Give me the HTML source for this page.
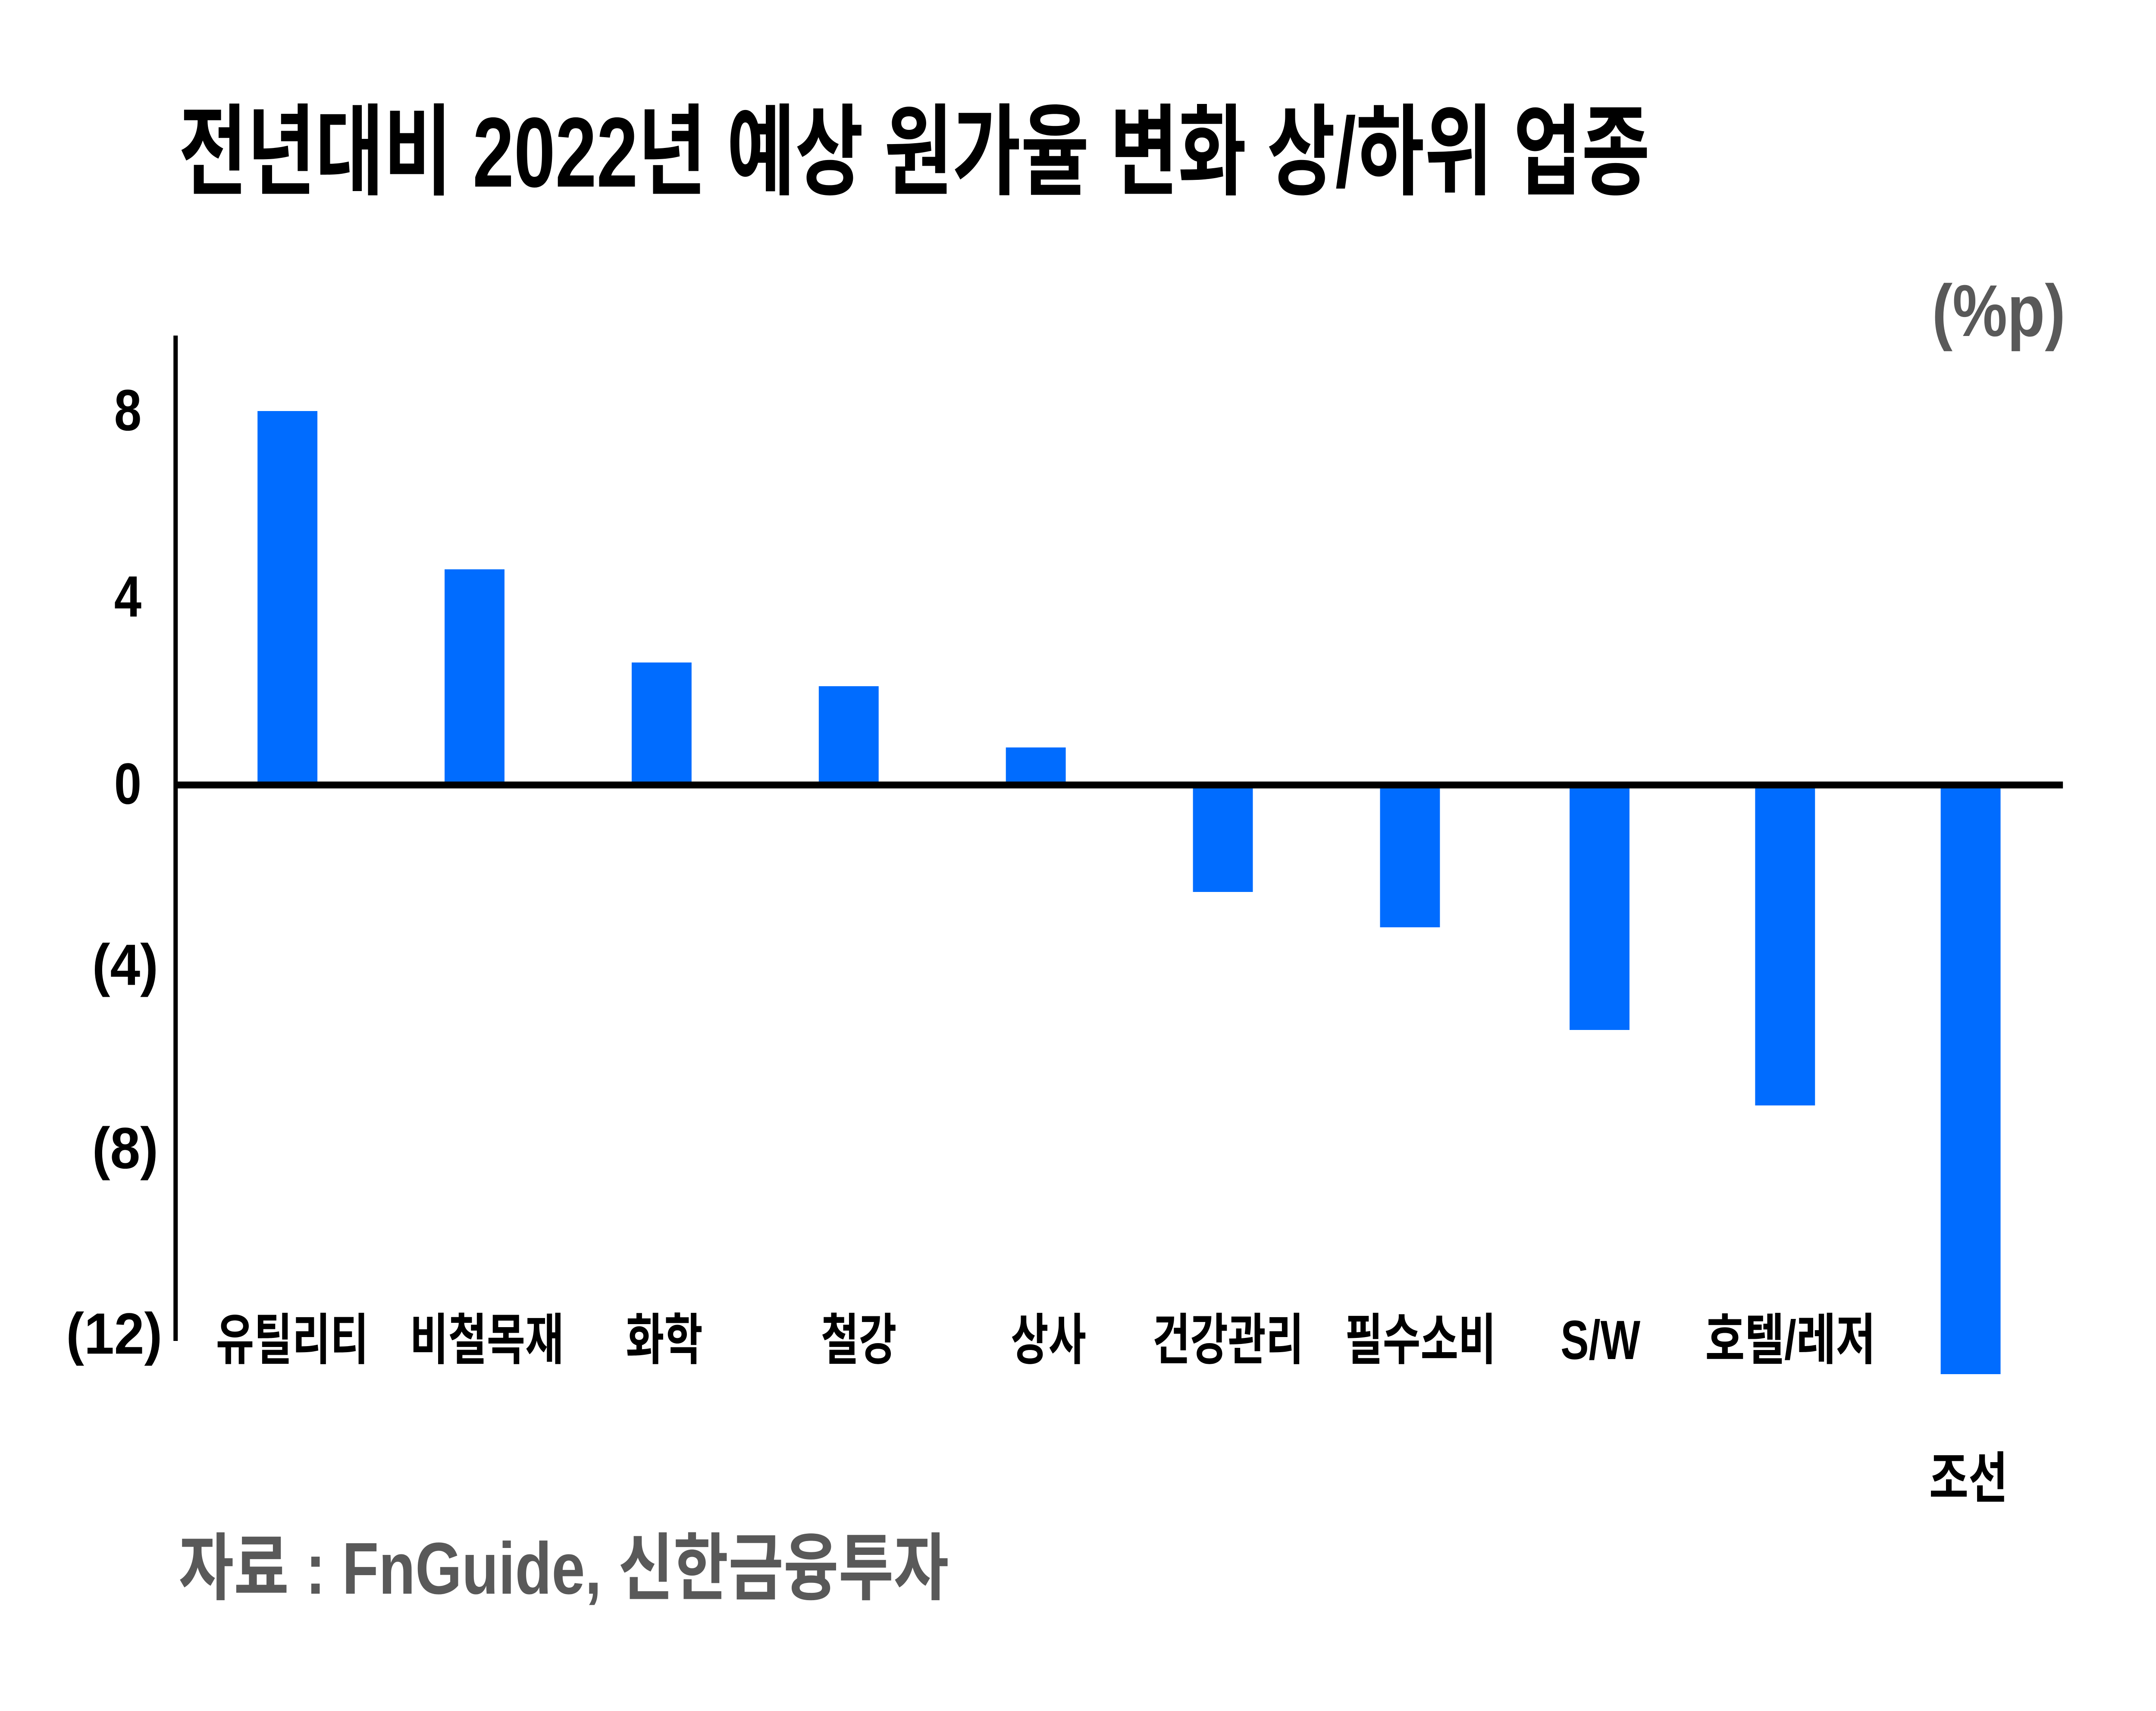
<!DOCTYPE html>
<html><head><meta charset="utf-8"><style>
html,body{margin:0;padding:0;background:#fff;width:100%;height:100%;overflow:hidden;}
svg{display:block;width:100vw;height:100vh;}
text{font-family:"Liberation Sans","Noto Sans CJK KR",sans-serif;font-weight:bold;}
</style></head><body>
<svg viewBox="0 0 6949 3967" preserveAspectRatio="none" xmlns="http://www.w3.org/2000/svg">
<rect width="6949" height="3967" fill="#fff"/>
<text x="576" y="354" dominant-baseline="central" font-size="230" textLength="4742" lengthAdjust="spacingAndGlyphs" fill="#000">전년대비 2022년 예상 원가율 변화 상/하위 업종</text>
<text x="6227" y="721" dominant-baseline="central" font-size="170" textLength="430" lengthAdjust="spacingAndGlyphs" fill="#595959">(%p)</text>
<g fill="#006CFF">
<rect x="830" y="953" width="193" height="867"/>
<rect x="1433" y="1320" width="193" height="500"/>
<rect x="2036" y="1536" width="193" height="284"/>
<rect x="2639" y="1591" width="193" height="229"/>
<rect x="3242" y="1733" width="193" height="87"/>
<rect x="3845" y="1820" width="193" height="248"/>
<rect x="4448" y="1820" width="193" height="330"/>
<rect x="5059" y="1820" width="193" height="568"/>
<rect x="5657" y="1820" width="193" height="743"/>
<rect x="6255" y="1820" width="193" height="1366"/>
</g>
<rect x="559" y="778" width="14" height="2331" fill="#000"/>
<rect x="566" y="1812" width="6083" height="16" fill="#000"/>
<g font-size="135" fill="#000" dominant-baseline="central">
<text x="368" y="951" textLength="88" lengthAdjust="spacingAndGlyphs">8</text>
<text x="368" y="1383" textLength="88" lengthAdjust="spacingAndGlyphs">4</text>
<text x="368" y="1817" textLength="88" lengthAdjust="spacingAndGlyphs">0</text>
<text x="297" y="2237" textLength="213" lengthAdjust="spacingAndGlyphs">(4)</text>
<text x="297" y="2662" textLength="213" lengthAdjust="spacingAndGlyphs">(8)</text>
<text x="213" y="3092" textLength="310" lengthAdjust="spacingAndGlyphs">(12)</text>
</g>
<g font-size="128" fill="#000" dominant-baseline="central">
<text x="696" y="3107" textLength="492" lengthAdjust="spacingAndGlyphs">유틸리티</text>
<text x="1321" y="3107" textLength="496" lengthAdjust="spacingAndGlyphs">비철목재</text>
<text x="2017" y="3107" textLength="248" lengthAdjust="spacingAndGlyphs">화학</text>
<text x="2646" y="3107" textLength="244" lengthAdjust="spacingAndGlyphs">철강</text>
<text x="3258" y="3107" textLength="243" lengthAdjust="spacingAndGlyphs">상사</text>
<text x="3714" y="3107" textLength="488" lengthAdjust="spacingAndGlyphs">건강관리</text>
<text x="4335" y="3107" textLength="487" lengthAdjust="spacingAndGlyphs">필수소비</text>
<text x="5030" y="3107" textLength="257" lengthAdjust="spacingAndGlyphs">S/W</text>
<text x="5496" y="3107" textLength="549" lengthAdjust="spacingAndGlyphs">호텔/레저</text>
<text x="6218" y="3428" textLength="253" lengthAdjust="spacingAndGlyphs">조선</text>
</g>
<text x="576" y="3637" dominant-baseline="central" font-size="170" textLength="2482" lengthAdjust="spacingAndGlyphs" fill="#595959">자료 : FnGuide, 신한금융투자</text>
</svg>
</body></html>
